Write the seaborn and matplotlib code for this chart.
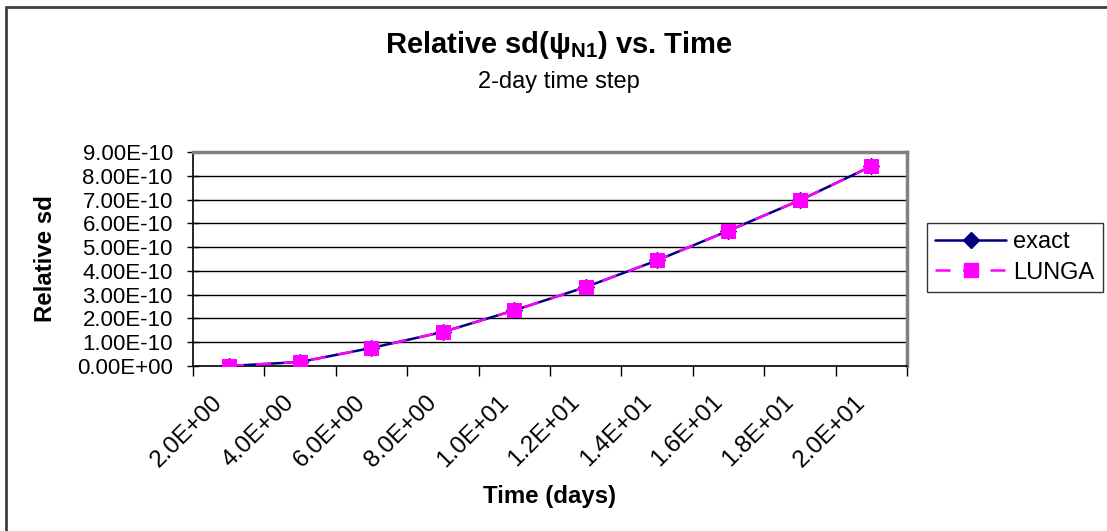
import matplotlib
matplotlib.use("Agg")
import matplotlib.pyplot as plt
import matplotlib.transforms as mtransforms
from matplotlib.lines import Line2D
import seaborn as sns
import numpy as np
import pandas as pd

# ---- data ----
time_days = [2, 4, 6, 8, 10, 12, 14, 16, 18, 20]
x_labels = [f"{t:.1E}" for t in time_days]
exact = [0.0, 0.17e-10, 0.76e-10, 1.43e-10, 2.34e-10, 3.32e-10, 4.44e-10, 5.69e-10, 6.97e-10, 8.40e-10]
lunga = [0.0, 0.17e-10, 0.76e-10, 1.43e-10, 2.34e-10, 3.32e-10, 4.44e-10, 5.69e-10, 6.97e-10, 8.40e-10]
y_ticks = [i * 1e-10 for i in range(10)]

sns.set_theme(style="white")
plt.rcParams['font.family'] = ['Liberation Sans', 'DejaVu Sans']
plt.rcParams['mathtext.fontset'] = 'custom'
plt.rcParams['mathtext.rm'] = 'Liberation Sans'
plt.rcParams['mathtext.bf'] = 'Liberation Sans:bold'
plt.rcParams['text.color'] = 'black'
plt.rcParams['xtick.color'] = 'black'
plt.rcParams['ytick.color'] = 'black'
plt.rcParams['axes.labelcolor'] = 'black'

W, H = 1107, 531
fig = plt.figure(figsize=(W / 100, H / 100), dpi=100)
fig.patch.set_facecolor("white")

L, R, T, B = 193, 907, 152, 366
ax = fig.add_axes([L / W, 1 - B / H, (R - L) / W, (B - T) / H])

pos = list(range(len(time_days)))
df = pd.DataFrame({"pos": pos, "exact": exact, "LUNGA": lunga})

sns.lineplot(data=df, x="pos", y="exact", ax=ax, color="#000080", lw=1.8,
             marker="D", markersize=8, markeredgecolor="#000080", zorder=3)
sns.lineplot(data=df, x="pos", y="LUNGA", ax=ax, color="#FF00FF", lw=1.8,
             marker="s", markersize=10, markeredgecolor="#FF00FF",
             linestyle=(0, (6, 5)), zorder=4)

ax.set_xlim(-0.5, len(pos) - 0.5)
ax.set_ylim(0, 9e-10)

# y axis
ax.set_yticks(y_ticks)
ax.set_yticklabels([f"{v:.2E}" for v in y_ticks], fontsize=16, color="black")
ax.tick_params(axis="y", which="major", direction="inout", length=9, width=1,
               color="black", left=True, pad=10)
for yv in y_ticks[1:]:
    ax.axhline(yv, color="black", lw=1, zorder=1)

# x axis: labels at category centres, ticks at boundaries
ax.set_xticks(pos)
ax.set_xticklabels(x_labels, fontsize=17.5, rotation=45, ha="right",
                   rotation_mode="anchor", color="black")
ax.tick_params(axis="x", which="major", length=0, pad=18)
ax.set_xticks([p - 0.5 for p in pos] + [len(pos) - 0.5], minor=True)
ax.tick_params(axis="x", which="minor", direction="out", length=7, width=1,
               color="black", bottom=True)
offset = mtransforms.ScaledTranslation(-17 / 100, 0, fig.dpi_scale_trans)
for lbl in ax.get_xticklabels():
    lbl.set_transform(lbl.get_transform() + offset)

ax.set_xlabel("Time (days)", fontsize=17.3, fontweight="bold")
ax.set_ylabel("Relative sd", fontsize=17.3, fontweight="bold")
ax.xaxis.set_label_coords((550 - L) / (R - L), -(497 - B) / (B - T))
ax.xaxis.label.set_va("center")
ax.yaxis.set_label_coords(-(193 - 46) / (R - L), 0.5)
ax.yaxis.label.set_va("center")

for s in ["left", "bottom"]:
    ax.spines[s].set_color("black")
    ax.spines[s].set_linewidth(1.2)
for s in ["top", "right"]:
    ax.spines[s].set_color("#808080")
    ax.spines[s].set_linewidth(2.5)

# titles
fig.text(559 / W, 1 - 45 / H, r"Relative sd(ψ$_{\mathbf{N1}}$) vs. Time",
         ha="center", va="center", fontsize=21, fontweight="bold")
fig.text(559 / W, 1 - 82 / H, "2-day time step", ha="center", va="center",
         fontsize=17)

# legend
handles = [
    Line2D([], [], color="#000080", lw=1.8, marker="D", markersize=8),
    Line2D([], [], color="#FF00FF", lw=1.8, marker="s", markersize=10,
           linestyle=(0, (6, 5))),
]
leg = fig.legend(handles, ["exact", "LUNGA"], loc="upper left",
                 bbox_to_anchor=(927 / W, 1 - 223 / H), fontsize=17,
                 frameon=True, fancybox=False, handlelength=3.0,
                 borderpad=0.35, labelspacing=0.35, handletextpad=0.3,
                 borderaxespad=0)
leg.get_frame().set_edgecolor("black")
leg.get_frame().set_linewidth(1)

# outer chart border (top and left visible)
fig.add_artist(Line2D([6 / W, 6 / W], [0, 1 - 7 / H], transform=fig.transFigure,
                      color="#404040", lw=2))
fig.add_artist(Line2D([6 / W, 1], [1 - 7 / H, 1 - 7 / H], transform=fig.transFigure,
                      color="#404040", lw=2))

fig.savefig("out.png", dpi=100, facecolor="white")
